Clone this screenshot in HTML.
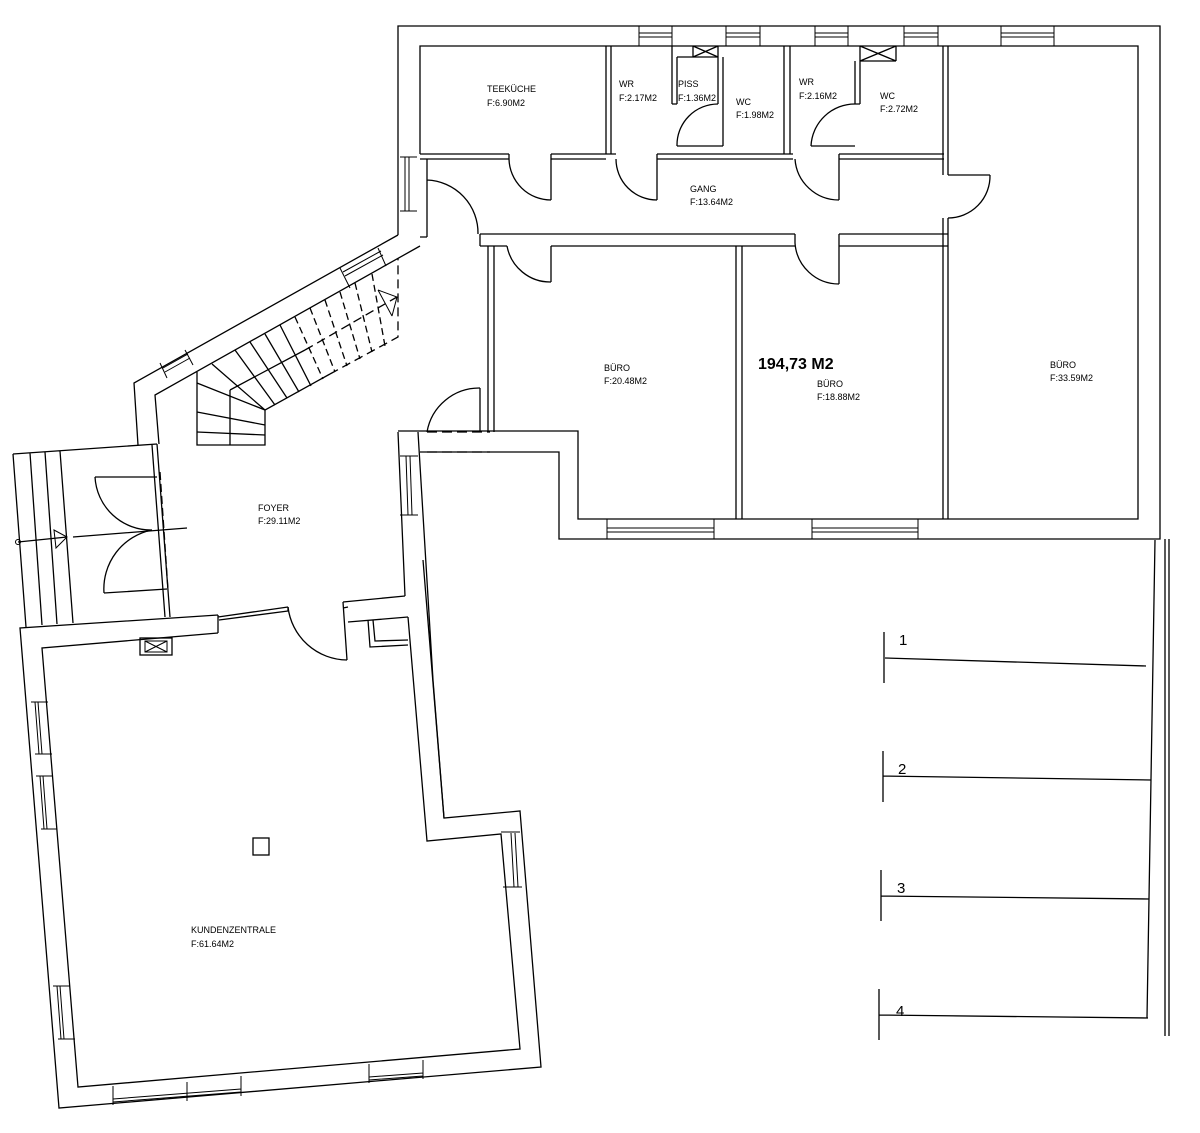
<!DOCTYPE html>
<html><head><meta charset="utf-8"><style>
html,body{margin:0;padding:0;background:#fff}
svg{display:block}
text{font-family:"Liberation Sans",sans-serif;fill:#000}
.l{font-size:9px}
</style></head><body>
<svg width="1200" height="1133" viewBox="0 0 1200 1133" xmlns="http://www.w3.org/2000/svg">
<g fill="none" stroke="#000" stroke-width="1.3" stroke-linejoin="miter">
<!-- top building outer -->
<polyline points="398,235 398,26 1160,26 1160,539 559,539 559,452 420,452"/>
<polyline points="398,431 578,431 578,519 1138,519 1138,46 420,46 420,154"/>
<!-- windows top -->
<g stroke-width="1">
<path d="M639,26V46M672,26V46M639,33H672M639,37H672"/>
<path d="M726,26V46M760,26V46M726,33H760M726,37H760"/>
<path d="M815,26V46M848,26V46M815,33H848M815,37H848"/>
<path d="M904,26V46M938,26V46M904,33H938M904,37H938"/>
<path d="M1001,26V46M1054,26V46M1001,33H1054M1001,37H1054"/>
<path d="M607,519V539M714,519V539M607,528H714M607,532H714"/>
<path d="M812,519V539M918,519V539M812,528H918M812,532H918"/>
<path d="M400,157H417M400,211H417M405,157V211M409,157V211"/>
</g>
<!-- corridor upper wall -->
<path d="M420,154H509M420,159H509M509,154V159"/>
<path d="M551,154H616M551,159H606M551,154V200"/>
<path d="M657,154H793M657,159H793M657,154V200"/>
<path d="M839,154H944M839,159H944M839,154V200"/>
<path d="M509,159A42,42 0 0 0 551,200"/>
<path d="M616,159A41,41 0 0 0 657,200"/>
<path d="M795,159A44,44 0 0 0 839,200"/>
<!-- partitions -->
<path d="M606,46V154M611,46V154"/>
<path d="M672,46V104M677,57V104M672,104H677M677,57H718"/>
<path d="M718,57V104M723,57V146M693,46V57M718,46V57M693,46L718,57M718,46L693,57"/>
<path d="M677,146H718M718,146H723"/>
<path d="M677,146A41,41 0 0 1 718,104"/>
<path d="M784,46V154M790,46V154"/>
<path d="M855,61V104M860,61V104M855,104H860M860,46V61M896,46V61M860,61H896M860,46L896,61M896,46L860,61"/>
<path d="M811,146H855"/>
<path d="M811,146A44,44 0 0 1 855,104"/>
<path d="M943,46V175M948,46V175M943,218V519M948,218V519"/>
<path d="M948,175H990M990,175A42,42 0 0 1 948,218"/>
<!-- corridor lower wall -->
<path d="M480,234H795M480,246H507M480,234V246M551,246H795M795,234V243"/>
<path d="M839,234H948M839,246H948M839,234V284"/>
<path d="M507,246A44,44 0 0 0 551,282M551,246V282"/>
<path d="M795,243A44,44 0 0 0 839,284"/>
<path d="M736,246V519M742,246V519"/>
<path d="M488,246V432M494,246V432"/>
<!-- foyer corridor door -->
<path d="M427,159V237M427,180A53,53 0 0 1 478,234M420,237H427"/>
<path d="M480,388V432M480,388A53,53 0 0 0 427,432"/>
<path d="M427,432H490M427,452H490" stroke-dasharray="10,5"/>
<!-- angled wall -->
<polyline points="398,235 134,383 138,445"/>
<polyline points="420,246 155,395 159,444"/>
<path d="M340,268L350,288M378,248L386,266M343,272L381,251M345,276L383,255" stroke-width="1"/>
<path d="M160,363L167,378M185,350L193,365M163,368L188,354M165,372L190,358" stroke-width="1"/>
<!-- stairs -->
<polyline points="197,372 197,445 265,445 265,410 330,374"/>
<path d="M330,374L398,337V258" stroke-dasharray="9,5"/>
<path d="M230,390V445M230,390L305,350"/>
<path d="M305,350L397,297" stroke-dasharray="9,5"/>
<path d="M197,383L265,410M197,412L265,425M197,432L265,435M212,364L265,410"/>
<path d="M235,350L275,405M250,342L287,398M265,334L299,392M280,325L311,386"/>
<path d="M295,317L323,379M310,308L335,372M325,300L347,366" stroke-dasharray="7,4"/>
<path d="M340,292L360,359M355,283L372,352M372,274L385,346" stroke-dasharray="7,4"/>
<path d="M378,290L397,297L392,316M378,290L392,316" stroke-width="1"/>
<!-- vestibule -->
<path d="M13,454L157,444M13,454L26,627M30,453L42,625M45,452L57,624M60,451L73,623"/>
<path d="M152,445L165,617M157,444L170,617"/>
<path d="M160,472L168,590" stroke-dasharray="8,4"/>
<path d="M95,477H157M95,477A56,56 0 0 0 152,530"/>
<path d="M104,593L167,589M104,593A60,60 0 0 1 152,530"/>
<path d="M18,542L67,537M73,537L187,528"/>
<path d="M54,530L67,537L56,548Z" stroke-width="1"/>
<circle cx="18" cy="542" r="2.5" stroke-width="1"/>
<!-- Kundenzentrale -->
<polyline points="218,615 20,628 59,1108 541,1067 520,811 444,818 423,560"/>
<polyline points="218,633 42,648 78,1087 520,1049 501,834 427,841 408,617"/>
<path d="M218,615V633M218,617L288,607M219,620L288,611M288,607V611"/>
<path d="M288,607A60,60 0 0 0 347,660M343,602L347,660M343,602L405,596M348,622L408,617M348,607L343,608"/>
<path d="M368,620L370,647L408,645M373,620L375,641L408,640"/>
<path d="M398,432L405,596M418,432L433,680L444,818"/>
<path d="M400,456H418M400,515H418M406,456L408,515M410,456L412,515" stroke-width="1"/>
<rect x="140" y="638" width="32" height="17"/>
<path d="M145,641H167V652H145ZM145,641L167,652M167,641L145,652" stroke-width="1"/>
<rect x="253" y="838" width="16" height="17"/>
<g stroke-width="1">
<path d="M31,702H48M35,754H52M35,702L39,754M38,702L42,754"/>
<path d="M36,776H53M41,829H57M40,776L44,829M43,776L47,829"/>
<path d="M53,986H70M58,1039H75M57,986L61,1039M60,986L64,1039"/>
<path d="M501,832H520M503,887H522M511,833L514,887M515,833L518,887"/>
<path d="M113,1086V1105M241,1076V1096M113,1099L241,1089M113,1102L241,1092M187,1082V1101"/>
<path d="M369,1064V1083M423,1060V1079M369,1077L423,1073M369,1080L423,1076"/>
</g>
<!-- parking -->
<path d="M1165,539V1036M1169,539V1036M1155,540L1147,1018"/>
<path d="M884,632V683M885,658L1146,666"/>
<path d="M883,751V802M883,776L1151,780"/>
<path d="M881,870V921M881,896L1149,899"/>
<path d="M879,989V1040M879,1015L1148,1018"/>
</g>
<g class="l" font-size="9">
<text x="487" y="92">TEEKÜCHE</text><text x="487" y="106">F:6.90M2</text>
<text x="619" y="87">WR</text><text x="619" y="101">F:2.17M2</text>
<text x="678" y="87">PISS</text><text x="678" y="101">F:1.36M2</text>
<text x="736" y="105">WC</text><text x="736" y="118">F:1.98M2</text>
<text x="799" y="85">WR</text><text x="799" y="99">F:2.16M2</text>
<text x="880" y="99">WC</text><text x="880" y="112">F:2.72M2</text>
<text x="690" y="192">GANG</text><text x="690" y="205">F:13.64M2</text>
<text x="604" y="371">BÜRO</text><text x="604" y="384">F:20.48M2</text>
<text x="817" y="387">BÜRO</text><text x="817" y="400">F:18.88M2</text>
<text x="1050" y="368">BÜRO</text><text x="1050" y="381">F:33.59M2</text>
<text x="258" y="511">FOYER</text><text x="258" y="524">F:29.11M2</text>
<text x="191" y="933">KUNDENZENTRALE</text><text x="191" y="947">F:61.64M2</text>
</g>
<text x="758" y="369" font-size="16" font-weight="bold">194,73 M2</text>
<g font-size="15"><text x="899" y="645">1</text><text x="898" y="774">2</text><text x="897" y="893">3</text><text x="896" y="1016">4</text></g>
</svg>
</body></html>
